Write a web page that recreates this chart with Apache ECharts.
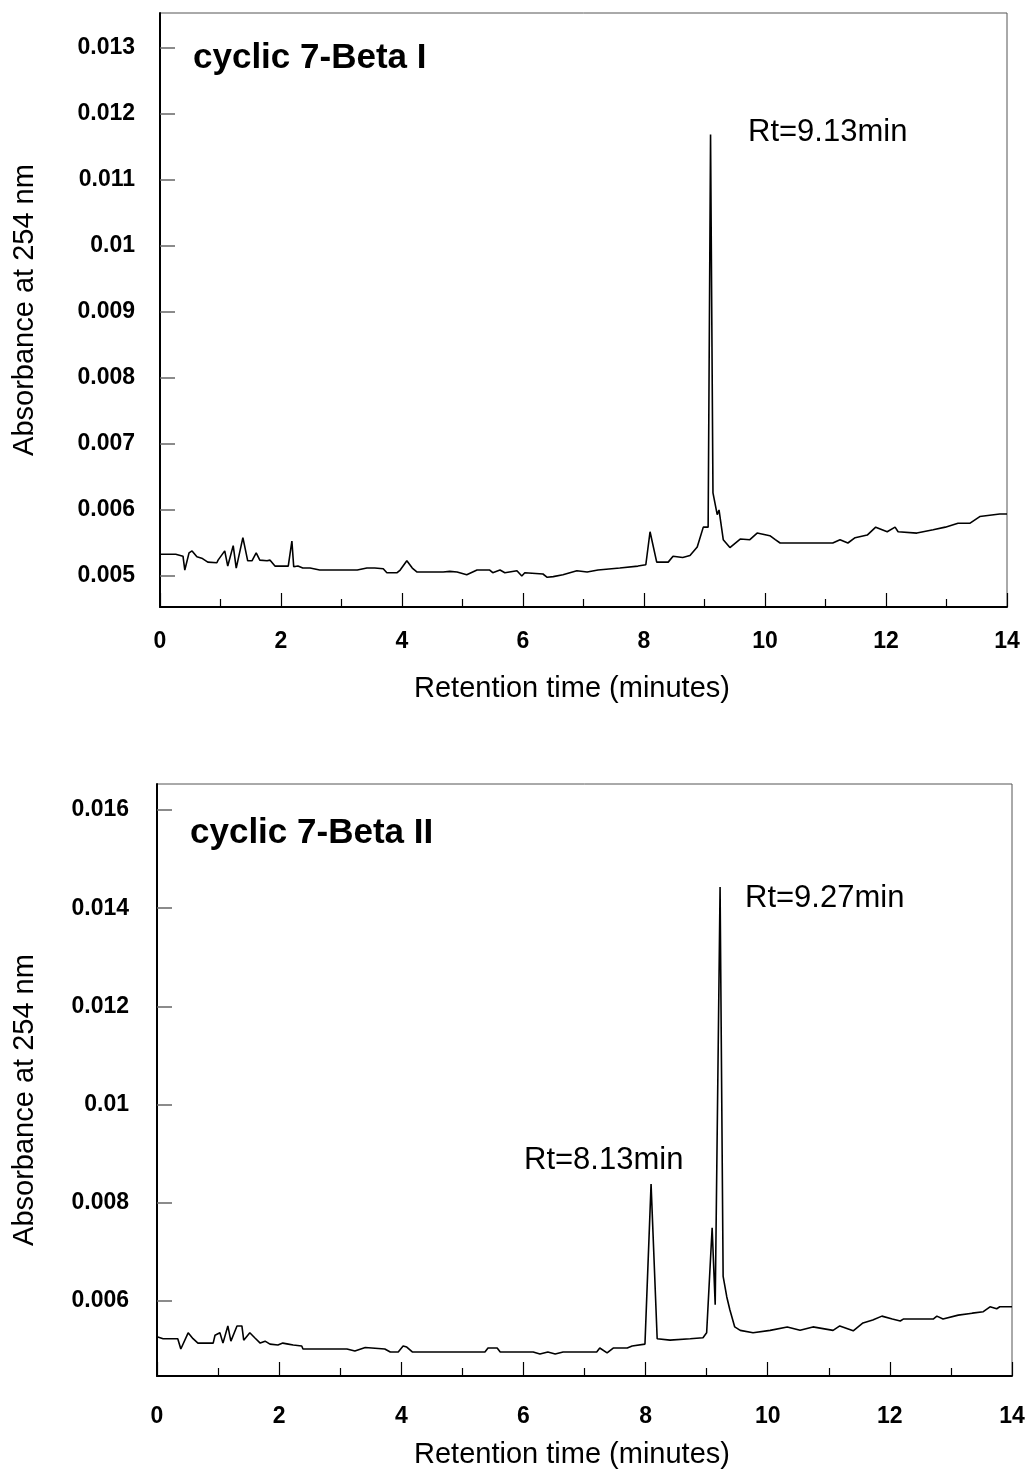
<!DOCTYPE html>
<html>
<head>
<meta charset="utf-8">
<script src="https://cdn.jsdelivr.net/npm/echarts@6/dist/echarts.min.js"></script>
<style>
html,body{margin:0;padding:0;background:#fff;}
#chart{width:1028px;height:1472px;}
</style>
</head>
<body>
<div id="chart"></div>
<script>
// ---- Data: chromatogram 1 (cyclic 7-Beta I) ----
const topTime = [0,0.26,0.38,0.41,0.48,0.53,0.61,0.69,0.79,0.94,0.96,1.07,1.12,1.21,1.26,1.37,1.45,1.52,1.59,1.65,1.77,1.82,1.9,2.12,2.18,2.21,2.28,2.36,2.48,2.64,3.26,3.27,3.42,3.55,3.69,3.75,3.92,3.97,4.08,4.17,4.25,4.68,4.79,4.91,5.07,5.24,5.45,5.5,5.62,5.7,5.9,5.98,6.03,6.33,6.4,6.5,6.66,6.89,7.06,7.24,7.6,7.9,8.03,8.1,8.21,8.4,8.48,8.64,8.76,8.88,8.98,9.06,9.1,9.14,9.21,9.24,9.31,9.42,9.59,9.75,9.87,10.08,10.17,10.25,11.12,11.24,11.37,11.49,11.69,11.83,12.02,12.15,12.2,12.51,12.78,12.98,13.19,13.39,13.55,13.88,14];
const topAbs = [0.00533,0.00533,0.0053,0.00509,0.00535,0.00538,0.00529,0.00527,0.00521,0.0052,0.00524,0.00538,0.00515,0.00546,0.00512,0.00558,0.00523,0.00523,0.00535,0.00524,0.00523,0.00524,0.00515,0.00515,0.00553,0.00514,0.00515,0.00512,0.00512,0.00509,0.00509,0.00512,0.00512,0.00512,0.00511,0.00505,0.00505,0.00509,0.00523,0.00512,0.00506,0.00506,0.00507,0.00506,0.00502,0.00509,0.00509,0.00505,0.00509,0.00505,0.00508,0.005,0.00505,0.00503,0.00498,0.00499,0.00502,0.00508,0.00506,0.00509,0.00512,0.00515,0.00517,0.00567,0.00521,0.00521,0.0053,0.00528,0.00531,0.00544,0.00574,0.00574,0.01169,0.00626,0.00593,0.006,0.00555,0.00543,0.00556,0.00555,0.00565,0.00561,0.00555,0.0055,0.0055,0.00555,0.0055,0.00558,0.00562,0.00574,0.00567,0.00574,0.00567,0.00565,0.0057,0.00574,0.0058,0.0058,0.0059,0.00594,0.00594];

// ---- Data: chromatogram 2 (cyclic 7-Beta II) ----
const botTime = [0,0.1,0.34,0.39,0.51,0.59,0.67,0.92,0.95,1.03,1.08,1.16,1.21,1.31,1.39,1.42,1.52,1.6,1.69,1.77,1.85,1.98,2.06,2.15,2.23,2.37,2.39,3.11,3.24,3.41,3.73,3.82,3.95,4.03,4.09,4.18,5.37,5.42,5.57,5.62,6.16,6.27,6.4,6.52,6.65,7.2,7.25,7.37,7.47,7.7,7.78,7.99,8.09,8.19,8.4,8.73,8.94,9.0,9.09,9.14,9.22,9.27,9.33,9.38,9.46,9.55,9.76,10.04,10.32,10.53,10.74,11.07,11.18,11.4,11.56,11.72,11.87,12.04,12.17,12.22,12.71,12.77,12.87,13.12,13.35,13.53,13.64,13.75,13.8,14];
const botAbs = [0.00527,0.00523,0.00523,0.00502,0.00535,0.00523,0.00514,0.00514,0.0053,0.00535,0.00514,0.00549,0.00518,0.00549,0.00549,0.0052,0.00535,0.00525,0.00514,0.00518,0.00512,0.0051,0.00514,0.00512,0.0051,0.00508,0.00502,0.00502,0.00498,0.00505,0.00502,0.00496,0.00496,0.00508,0.00506,0.00496,0.00496,0.00504,0.00504,0.00496,0.00496,0.00492,0.00496,0.00492,0.00496,0.00496,0.00504,0.00494,0.00504,0.00504,0.00508,0.00512,0.00838,0.00523,0.0052,0.00523,0.00525,0.00535,0.00749,0.00592,0.01443,0.0065,0.00608,0.00582,0.00547,0.0054,0.00535,0.0054,0.00547,0.0054,0.00547,0.0054,0.00549,0.00539,0.00555,0.00561,0.00569,0.00563,0.00559,0.00563,0.00563,0.00569,0.00563,0.00571,0.00575,0.00578,0.00588,0.00584,0.00588,0.00588];

// ---- Tick labels ----
const xTicks = [0,2,4,6,8,10,12,14];
const topYTicks = [0.005,0.006,0.007,0.008,0.009,0.01,0.011,0.012,0.013];
const botYTicks = [0.006,0.008,0.01,0.012,0.014,0.016];

// ---- Texts ----
const titles = ['cyclic 7-Beta I','cyclic 7-Beta II'];
const xTitle = 'Retention time (minutes)';
const yTitle = 'Absorbance at 254 nm';
const topNotes = ['Rt=9.13min'];
const botNotes = ['Rt=9.27min','Rt=8.13min'];

const FONT = '"Liberation Sans", Arial, sans-serif';
const chart = echarts.init(document.getElementById('chart'), null, {renderer:'canvas'});

function xAxisCfg(gridIndex, margin){
  return {
    type:'value', gridIndex, min:0, max:14, interval:2,
    axisLine:{show:true, onZero:false, lineStyle:{color:'#000', width:2}},
    axisTick:{show:true, inside:true, length:14, lineStyle:{color:'#000', width:1.2}},
    minorTick:{show:true, splitNumber:2, length:8, lineStyle:{color:'#000', width:1.2}},
    splitLine:{show:false},
    axisLabel:{show:true, margin, color:'#000', fontFamily:FONT, fontWeight:'bold', fontSize:23,
      customValues:xTicks, formatter:v=>String(v)}
  };
}
function yAxisCfg(gridIndex, min, max, ticks, margin){
  return {
    type:'value', gridIndex, min, max,
    axisLine:{show:true, onZero:false, lineStyle:{color:'#000', width:2}},
    axisTick:{show:true, inside:true, length:15, customValues:ticks, lineStyle:{color:'#666', width:1.5}},
    splitLine:{show:false},
    axisLabel:{show:true, margin, color:'#000', fontFamily:FONT, fontWeight:'bold', fontSize:23,
      customValues:ticks, formatter:v=>String(+(+v).toFixed(4))}
  };
}
function textEl(text, x, y, size, weight, rotation){
  return {type:'text', x, y, rotation:rotation||0,
    style:{text, fill:'#000', font: weight+' '+size+'px '+FONT, textAlign:'center', textVerticalAlign:'middle'}};
}
function leftText(text, x, y, size, weight){
  return {type:'text', x, y,
    style:{text, fill:'#000', font: weight+' '+size+'px '+FONT, textAlign:'left', textVerticalAlign:'middle'}};
}

const option = {
  animation:false,
  backgroundColor:'#fff',
  grid:[
    {left:160, top:13, width:847, height:594, show:true, borderColor:'#555', borderWidth:1},
    {left:157, top:784, width:855, height:592, show:true, borderColor:'#555', borderWidth:1}
  ],
  xAxis:[xAxisCfg(0, 23), xAxisCfg(1, 29)],
  yAxis:[yAxisCfg(0, 0.00453, 0.01353, topYTicks, 25), yAxisCfg(1, 0.00447, 0.01653, botYTicks, 28)],
  series:[
    {type:'line', xAxisIndex:0, yAxisIndex:0, showSymbol:false, symbol:'none',
     lineStyle:{color:'#000', width:1.6}, data: topTime.map((t,i)=>[t, topAbs[i]])},
    {type:'line', xAxisIndex:1, yAxisIndex:1, showSymbol:false, symbol:'none',
     lineStyle:{color:'#000', width:1.6}, data: botTime.map((t,i)=>[t, botAbs[i]])}
  ],
  graphic:[
    leftText(titles[0], 193, 58, 35, 'bold'),
    leftText(titles[1], 190, 833, 35, 'bold'),
    leftText(topNotes[0], 748, 132, 31, 'normal'),
    leftText(botNotes[0], 745, 898, 31, 'normal'),
    leftText(botNotes[1], 524, 1160, 31, 'normal'),
    textEl(xTitle, 572, 689, 29, 'normal'),
    textEl(xTitle, 572, 1455, 29, 'normal'),
    textEl(yTitle, 25, 310, 29, 'normal', Math.PI/2),
    textEl(yTitle, 25, 1100, 29, 'normal', Math.PI/2)
  ]
};
chart.setOption(option);
</script>
</body>
</html>
